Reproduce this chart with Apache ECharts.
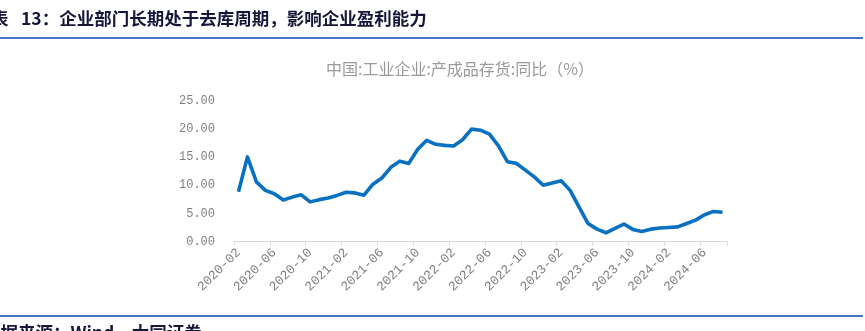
<!DOCTYPE html>
<html>
<head>
<meta charset="utf-8">
<script src="https://cdn.jsdelivr.net/npm/echarts@6/dist/echarts.min.js"></script>
<style>
html,body{margin:0;padding:0;background:#fff;}
#main{width:865px;height:331px;}
</style>
</head>
<body>
<div id="main"></div>
<script>
const categories = [
  '2020-02','2020-03','2020-04','2020-05','2020-06','2020-07','2020-08','2020-09','2020-10','2020-11','2020-12',
  '2021-01','2021-02','2021-03','2021-04','2021-05','2021-06','2021-07','2021-08','2021-09','2021-10','2021-11','2021-12',
  '2022-01','2022-02','2022-03','2022-04','2022-05','2022-06','2022-07','2022-08','2022-09','2022-10','2022-11','2022-12',
  '2023-01','2023-02','2023-03','2023-04','2023-05','2023-06','2023-07','2023-08','2023-09','2023-10','2023-11','2023-12',
  '2024-01','2024-02','2024-03','2024-04','2024-05','2024-06','2024-07','2024-08'
];
const inventoryYoY = [
  8.85, 15.05, 10.6, 9.1, 8.5, 7.4, 7.9, 8.3, 7.05, 7.45, 7.75,
  8.2, 8.75, 8.65, 8.25, 10.2, 11.3, 13.2, 14.3, 13.9, 16.4, 18.0, 17.3,
  17.1, 17.0, 18.1, 20.0, 19.8, 19.1, 17.0, 14.2, 13.9, 12.7, 11.5, 10.0,
  10.4, 10.8, 9.1, 6.1, 3.2, 2.2, 1.55, 2.35, 3.1, 2.15, 1.8, 2.2,
  2.4, 2.5, 2.6, 3.2, 3.8, 4.75, 5.35, 5.2
];
const yTicks = { min: 0, max: 25, interval: 5 };
const headerLabel = '表';
const headerText = '13：企业部门长期处于去库周期，影响企业盈利能力';
const chartTitle = '中国:工业企业:产成品存货:同比（%）';
const sourceText = '数据来源：Wind，大同证券';

const chart = echarts.init(document.getElementById('main'), null, {renderer: 'canvas'});
chart.setOption({
  animation: false,
  backgroundColor: '#ffffff',
  title: {
    text: chartTitle,
    left: 455, top: 56, textAlign: 'center',
    textStyle: { fontFamily: 'Noto Sans CJK SC', fontSize: 16, fontWeight: 'normal', color: '#9a9a9a' }
  },
  grid: { left: 234, right: 138, top: 101, bottom: 89.5, containLabel: false },
  xAxis: {
    type: 'category',
    data: categories,
    boundaryGap: true,
    axisLine: { show: true, lineStyle: { color: '#d9d9d9', width: 1 } },
    axisTick: { show: true, interval: 3, length: 4, lineStyle: { color: '#d9d9d9' } },
    axisLabel: {
      interval: 3, rotate: 45, margin: 9,
      fontFamily: 'Liberation Mono', fontSize: 13, color: '#808080'
    },
    splitLine: { show: false }
  },
  yAxis: {
    type: 'value',
    min: yTicks.min, max: yTicks.max, interval: yTicks.interval,
    axisLine: { show: false },
    axisTick: { show: false },
    splitLine: { show: false },
    axisLabel: {
      margin: 19,
      fontFamily: 'Liberation Mono', fontSize: 12, color: '#808080',
      formatter: v => v.toFixed(2)
    }
  },
  series: [{
    type: 'line',
    data: inventoryYoY,
    showSymbol: false,
    symbol: 'none',
    lineStyle: { color: '#0a70c0', width: 3.6, join: 'round' },
    itemStyle: { color: '#0a70c0' }
  }],
  graphic: [
    { type: 'text', left: -9, top: 10,
      style: { text: headerLabel, fontFamily: 'Noto Sans CJK SC', fontSize: 17.5, fontWeight: 'bold', fill: '#16163a' } },
    { type: 'text', left: 21, top: 10,
      style: { text: headerText, fontFamily: 'Noto Sans CJK SC', fontSize: 17.5, fontWeight: 'bold', fill: '#16163a' } },
    { type: 'rect', shape: { x: 0, y: 37, width: 863, height: 2 }, style: { fill: '#4a72c2' } },
    { type: 'rect', shape: { x: 0, y: 315, width: 863, height: 2 }, style: { fill: '#4a72c2' } },
    { type: 'text', left: -17, top: 324,
      style: { text: sourceText, fontFamily: 'Noto Sans CJK SC', fontSize: 17.5, fontWeight: 'bold', fill: '#16163a' } }
  ]
});
</script>
</body>
</html>
